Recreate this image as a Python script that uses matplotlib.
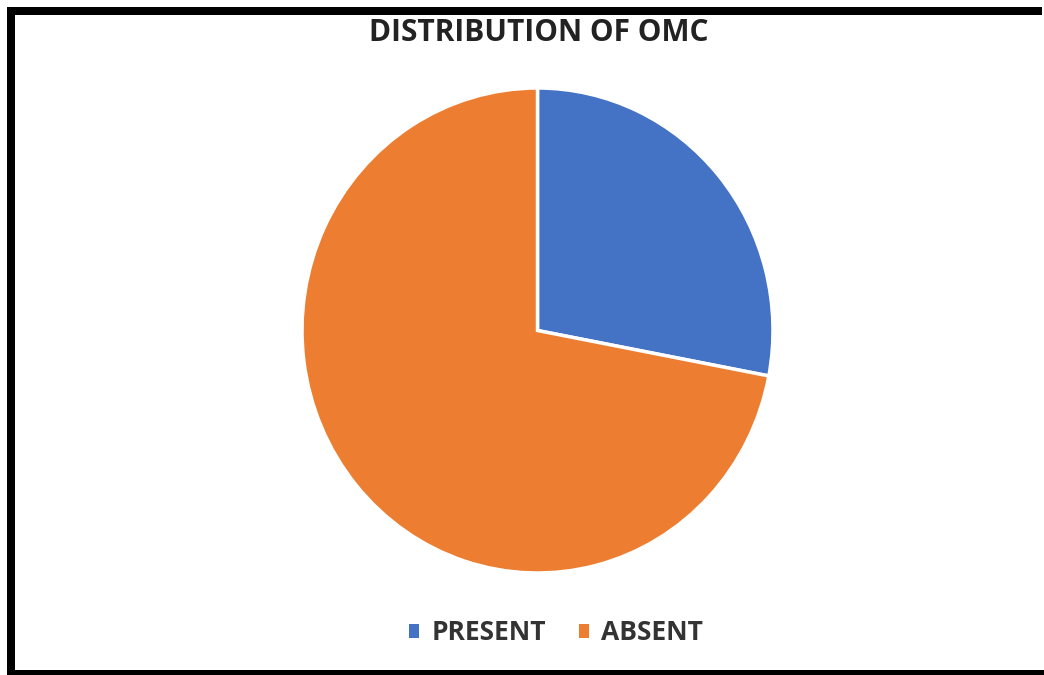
import matplotlib.pyplot as plt
from matplotlib.lines import Line2D

categories = ["PRESENT", "ABSENT"]
values = [28, 72]
colors = ["#4472C4", "#ED7D31"]
title = "DISTRIBUTION OF OMC"

W, H = 1044, 675
fig = plt.figure(figsize=(W / 100, H / 100), dpi=100)
fig.patch.set_facecolor("white")

# pie axes: centre ~ (537.5, 330.5) px, slightly taller than wide
cx, cy, rx, ry = 537.5, 330.5, 235.5, 242.5
ax = fig.add_axes([(cx - rx) / W, 1 - (cy + ry) / H, 2 * rx / W, 2 * ry / H])
wedges, _ = ax.pie(values, colors=colors, startangle=90, counterclock=False,
                   radius=1.0,
                   wedgeprops=dict(edgecolor="white", linewidth=2.5))
ax.set_xlim(-1, 1)
ax.set_ylim(-1, 1)
ax.set_aspect("auto")
ax.axis("off")

fig.text(538.5 / W, 1 - 33 / H, title, ha="center", va="center",
         fontsize=21.5, fontweight="bold", family="Open Sans", color="#222222")

leg = fig.legend(wedges, categories, loc="center",
                 bbox_to_anchor=(556 / W, 1 - 633 / H), ncol=2, frameon=False,
                 handlelength=0.4, handleheight=0.4, handletextpad=0.45,
                 columnspacing=1.25,
                 prop=dict(family="Open Sans", weight="bold", size=19))
for t in leg.get_texts():
    t.set_color("#333333")
for h in leg.legend_handles:
    h.set_edgecolor("none")

# heavy frame on top, left and bottom
lw = 8
def px_line(x0, y0, x1, y1):
    fig.add_artist(Line2D([x0 / W, x1 / W], [1 - y0 / H, 1 - y1 / H],
                          color="black", linewidth=lw * 0.72,
                          solid_capstyle="butt", transform=fig.transFigure))

px_line(7, 11, 1042, 11)
px_line(11, 7, 11, 675)
px_line(7, 674, 1044, 674)

fig.savefig("out.png", dpi=100, facecolor="white")
